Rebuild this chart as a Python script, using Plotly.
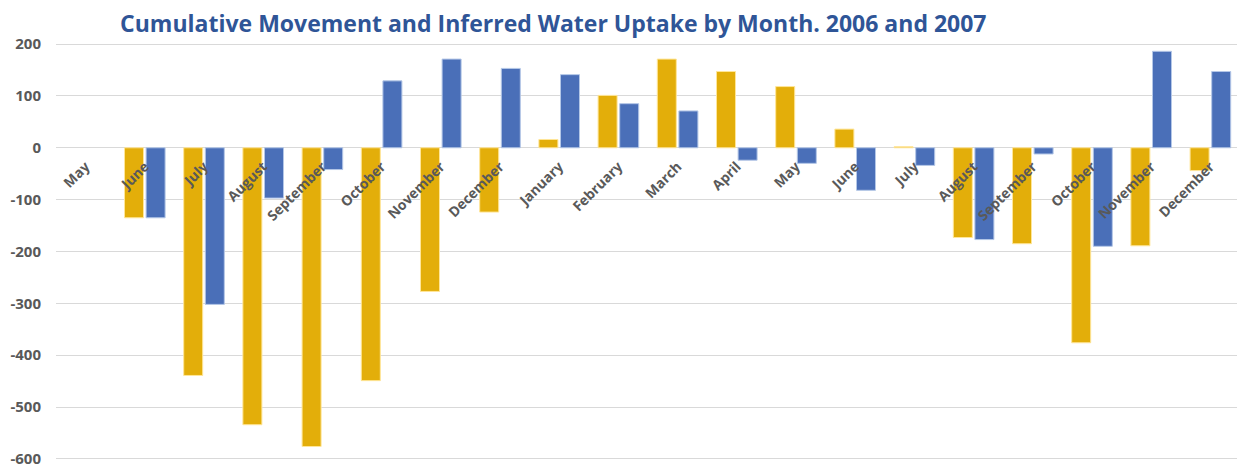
import plotly.graph_objects as go

# Monthly categories, May 2006 - December 2007
categories = [
    "May 2006", "Jun 2006", "Jul 2006", "Aug 2006", "Sep 2006", "Oct 2006",
    "Nov 2006", "Dec 2006", "Jan 2007", "Feb 2007", "Mar 2007", "Apr 2007",
    "May 2007", "Jun 2007", "Jul 2007", "Aug 2007", "Sep 2007", "Oct 2007",
    "Nov 2007", "Dec 2007",
]
month_labels = [
    "May", "June", "July", "August", "September", "October", "November",
    "December", "January", "February", "March", "April", "May", "June",
    "July", "August", "September", "October", "November", "December",
]

# May 2006 has no bars in the chart
cumulative_movement = [
    None, -135, -439, -534, -576, -449, -277, -124, 16, 101, 171, 147,
    118, 36, 2, -173, -185, -376, -189, -44,
]
water_uptake = [
    None, -135, -302, -97, -42, 129, 171, 153, 141, 85, 71, -24,
    -30, -82, -34, -177, -12, -190, 186, 147,
]

y_ticks = [200, 100, 0, -100, -200, -300, -400, -500, -600]
y_min, y_max = -602, 202

fig = go.Figure()
fig.add_trace(go.Bar(
    x=categories, y=cumulative_movement, name="Cumulative Movement",
    marker=dict(color="#E3AE0A", line=dict(color="#FFE699", width=1)),
))
fig.add_trace(go.Bar(
    x=categories, y=water_uptake, name="Inferred Water Uptake",
    marker=dict(color="#4A6FB8", line=dict(color="#B4C7E7", width=1)),
))

# the page body adds an 8px offset, margins compensate for it
fig.update_layout(
    width=1245, height=468,
    barmode="group", bargap=0.27, bargroupgap=0.12,
    showlegend=False,
    paper_bgcolor="white", plot_bgcolor="white",
    margin=dict(l=48, r=13, t=35, b=16),
    font=dict(family="Open Sans", color="#595959"),
    title=dict(
        text="<b>Cumulative Movement and Inferred Water Uptake by Month. 2006 and 2007</b>",
        font=dict(family="Open Sans", size=23, color="#2F5597"),
        x=0.438, xanchor="center", y=0.966, yanchor="middle",
    ),
    xaxis=dict(
        type="category",
        tickvals=categories, ticktext=[f"<b>{m}</b>" for m in month_labels],
        tickangle=-45, tickfont=dict(size=14, color="#595959"),
        ticklabelstandoff=7,
        anchor="free", position=-y_min / (y_max - y_min),
        showgrid=False, showline=False, ticks="",
        automargin=False,
    ),
    yaxis=dict(
        range=[y_min, y_max], tickvals=y_ticks,
        ticktext=[f"<b>{v}</b>" for v in y_ticks],
        tickfont=dict(size=15, color="#595959"),
        ticklabelstandoff=14,
        showgrid=True, gridcolor="#D9D9D9", gridwidth=1,
        zeroline=True, zerolinecolor="#D9D9D9", zerolinewidth=1,
        showline=False, ticks="", automargin=False,
    ),
)

fig.write_html("out.html")
